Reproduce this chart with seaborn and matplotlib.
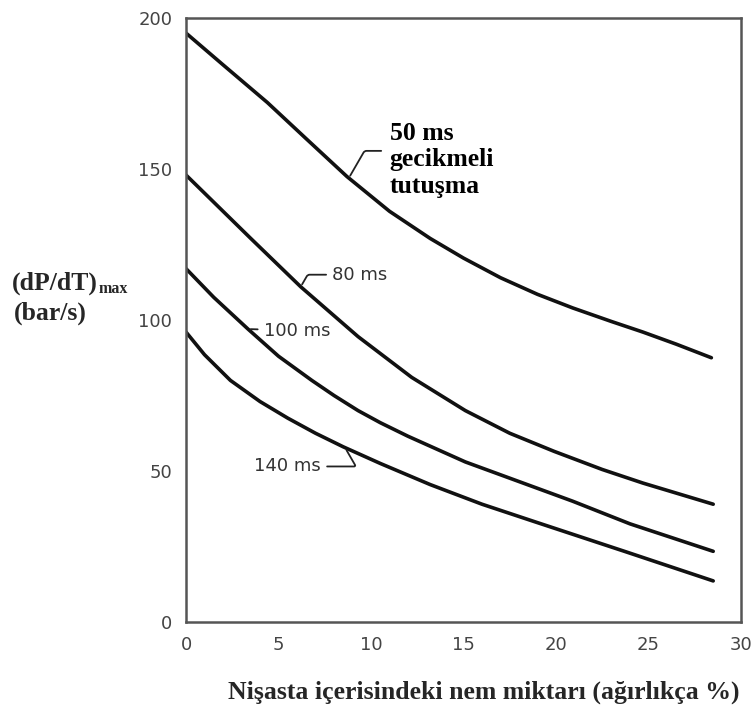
import pandas as pd
import matplotlib.pyplot as plt
import seaborn as sns

# data (x = moisture %, y = (dP/dT)max bar/s)
x50 = [0, 2, 4.4, 6.5, 8.7, 11, 13.2, 15, 17, 19, 20.9, 23, 24.7, 26.5, 28.4]
y50 = [195, 184.5, 172, 160, 147.5, 136, 127, 120.5, 114, 108.5, 104, 99.5, 96, 92, 87.5]
x80 = [0, 1.5, 3.5, 6.2, 9.3, 12.2, 15.1, 17.5, 19.9, 22.5, 24.7, 28.5]
y80 = [148, 139, 127, 111, 94.5, 81, 70, 62.5, 56.5, 50.5, 46, 39]
x100 = [0, 1.5, 3.35, 5, 6.8, 8, 9.3, 10.5, 12, 15.1, 18, 20.9, 24, 28.5]
y100 = [117, 107.5, 97, 88, 80, 75, 70, 66, 61.5, 53, 46.5, 40, 32.5, 23.4]
x140 = [0, 1, 2.4, 4, 5.5, 7, 8.5, 10.5, 13.2, 16, 18.9, 23.7, 28.5]
y140 = [96, 88.5, 80, 73, 67.5, 62.5, 58, 52.5, 45.5, 39, 33.1, 23.4, 13.6]

frames = []
for name, xs, ys in [('50 ms', x50, y50), ('80 ms', x80, y80),
                     ('100 ms', x100, y100), ('140 ms', x140, y140)]:
    frames.append(pd.DataFrame({'nem': xs, 'dpdt': ys, 'gecikme': name}))
long = pd.concat(frames, ignore_index=True)

sns.set_style("white")
plt.rcParams['font.family'] = ['Liberation Sans Narrow', 'DejaVu Sans']

fig = plt.figure(figsize=(7.55, 7.06), dpi=100)
ax = fig.add_axes([0.2464, 0.119, 0.735, 0.8555])

sns.lineplot(data=long, x='nem', y='dpdt', hue='gecikme', sort=False,
             palette=['#111111'] * 4, linewidth=2.6, legend=False, ax=ax,
             solid_joinstyle='round', solid_capstyle='round')

ax.set_xlim(0, 30)
ax.set_ylim(0, 200)
ax.set_xticks([0, 5, 10, 15, 20, 25, 30])
ax.set_yticks([0, 50, 100, 150, 200])
ax.tick_params(direction='in', length=7, width=1.5, colors='#555555',
               labelcolor='#444444', labelsize=13, pad=10)
ax.set_xlabel('')
ax.set_ylabel('')
for s in ax.spines.values():
    s.set_color('#555555')
    s.set_linewidth(1.8)

gray = '#333333'
txt = dict(fontsize=13, color=gray)
line = dict(arrowstyle='-', color='#222222', lw=1.3)

# curve labels with leader lines
ax.annotate('80 ms', xy=(6.2, 111), xytext=(7.9, 115), va='center',
            arrowprops=dict(connectionstyle='angle,angleA=0,angleB=60,rad=2', **line), **txt)
ax.annotate('100 ms', xy=(3.35, 97), xytext=(4.2, 96.5), va='center',
            arrowprops=dict(connectionstyle='arc3', **line), **txt)
ax.annotate('140 ms', xy=(8.6, 57.7), xytext=(7.3, 51.5), ha='right', va='center',
            arrowprops=dict(connectionstyle='angle,angleA=0,angleB=-60,rad=2', **line), **txt)
ax.annotate('', xy=(8.8, 147), xytext=(10.7, 156),
            arrowprops=dict(connectionstyle='angle,angleA=0,angleB=60,rad=2', **line))

serif = ['Liberation Serif', 'DejaVu Serif']
ax.text(11.0, 153, '50 ms\ngecikmeli\ntutuşma', family=serif, fontweight='bold',
        fontsize=18.5, va='center', ha='left', linespacing=1.2, color='black')

fig.text(12 / 755, 1 - 283 / 706, '(dP/dT)', family=serif, fontweight='bold',
         fontsize=18.5, va='center', ha='left')
fig.text(99 / 755, 1 - 289 / 706, 'max', family=serif, fontweight='bold',
         fontsize=11.5, va='center', ha='left')
fig.text(14 / 755, 1 - 313 / 706, '(bar/s)', family=serif, fontweight='bold',
         fontsize=18.5, va='center', ha='left')
fig.text(484 / 755, 1 - 692 / 706, 'Nişasta içerisindeki nem miktarı (ağırlıkça %)',
         family=serif, fontweight='bold', fontsize=18.5, va='center', ha='center')

fig.savefig('out.png', dpi=100)
